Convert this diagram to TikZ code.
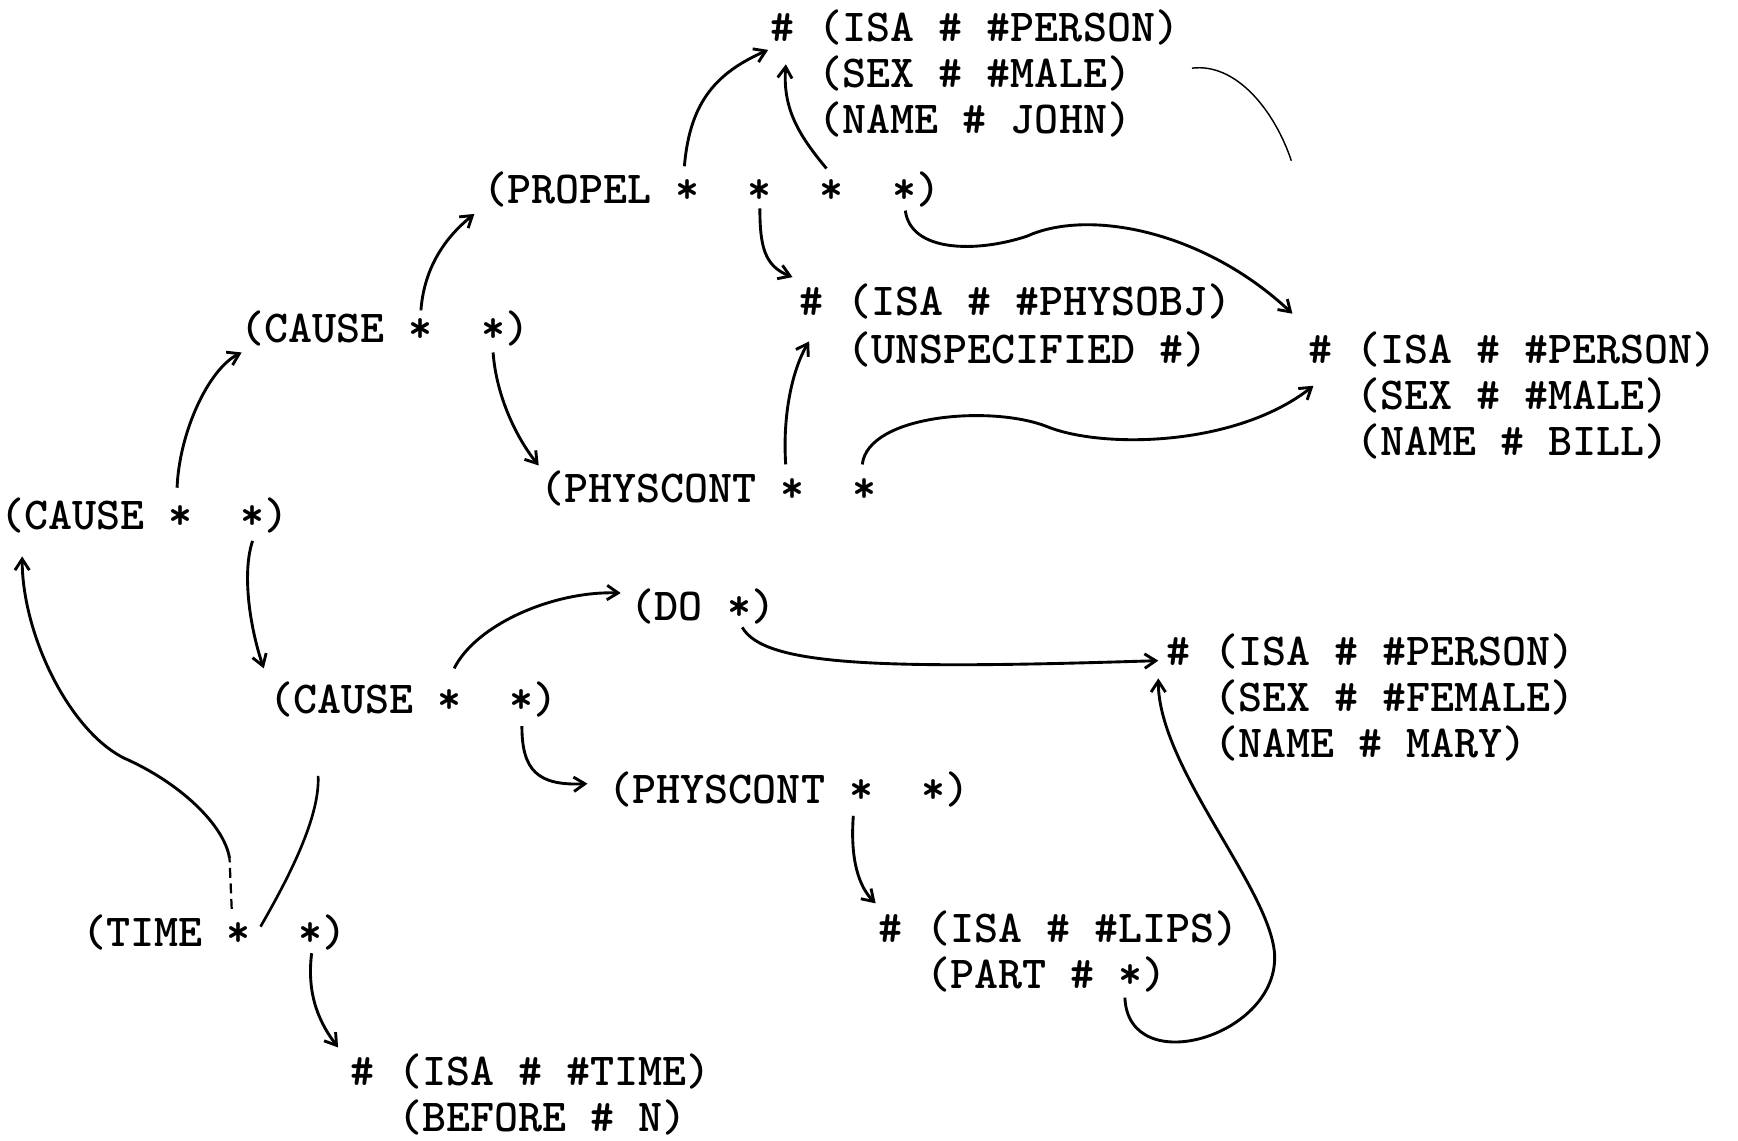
\documentclass[tikz,border=0pt]{standalone}
\usetikzlibrary{arrows.meta}
\usetikzlibrary{calc}
\newcommand{\pitch}{21.7}

\begin{document}
\begin{tikzpicture}[x=1pt,y=-1pt,
    every node/.style={inner sep=0pt,anchor=base west,
      font=\fontsize{41.3}{41.5}\selectfont\ttfamily\bfseries},
    link/.style={line width=2.6pt,-{Straight Barb[length=10pt,width=13pt]}},
    faint/.style={line width=1.3pt}]
  \useasboundingbox (0,0) rectangle (1568,1029);

  %% The records.
  \node (john1) at (695,37) {\#~(ISA~\#~\#PERSON)};
  \node (john2) at ($(john1.base west)+(2*\pitch,41.5)$) {(SEX~\#~\#MALE)};
  \node (john3) at ($(john1.base west)+(2*\pitch,83)$) {(NAME~\#~JOHN)};
  \node (propel) at (436,184) {(PROPEL~*~~*~~*~~*)};
  \node (physobj1) at (721,285) {\#~(ISA~\#~\#PHYSOBJ)};
  \node (physobj2) at ($(physobj1.base west)+(2*\pitch,43)$) {(UNSPECIFIED~\#)};
  \node (cause2) at (217,309) {(CAUSE~*~~*)};
  \node (bill1) at (1180,328) {\#~(ISA~\#~\#PERSON)};
  \node (bill2) at ($(bill1.base west)+(2*\pitch,41.5)$) {(SEX~\#~\#MALE)};
  \node (bill3) at ($(bill1.base west)+(2*\pitch,83)$) {(NAME~\#~BILL)};
  \node (pc1) at (487,453) {(PHYSCONT~*~~*};
  \node (cause1) at (0,478) {(CAUSE~*~~*)};
  \node (do) at (569,560) {(DO~*)};
  \node (mary1) at (1052,600) {\#~(ISA~\#~\#PERSON)};
  \node (mary2) at ($(mary1.base west)+(2*\pitch,41.5)$) {(SEX~\#~\#FEMALE)};
  \node (mary3) at ($(mary1.base west)+(2*\pitch,83)$) {(NAME~\#~MARY)};
  \node (cause3) at (243,644) {(CAUSE~*~~*)};
  \node (pc2) at (549,725) {(PHYSCONT~*~~*)};
  \node (lips1) at (792,850) {\#~(ISA~\#~\#LIPS)};
  \node (lips2) at ($(lips1.base west)+(2*\pitch,42)$) {(PART~\#~*)};
  \node (time) at (74,854) {(TIME~*~~*)};
  \node (before1) at (316,979) {\#~(ISA~\#~\#TIME)};
  \node (before2) at ($(before1.base west)+(2*\pitch,41.5)$) {(BEFORE~\#~N)};

  %% The slots (the stars).
  \coordinate (propel1) at ($(propel.base west)+(8.5*\pitch,-12)$);
  \coordinate (propel2) at ($(propel.base west)+(11.5*\pitch,-12)$);
  \coordinate (propel3) at ($(propel.base west)+(14.5*\pitch,-12)$);
  \coordinate (propel4) at ($(propel.base west)+(17.5*\pitch,-12)$);
  \coordinate (cause1a) at ($(cause1.base west)+(7.5*\pitch,-12)$);
  \coordinate (cause1b) at ($(cause1.base west)+(10.5*\pitch,-12)$);
  \coordinate (cause2a) at ($(cause2.base west)+(7.5*\pitch,-12)$);
  \coordinate (cause2b) at ($(cause2.base west)+(10.5*\pitch,-12)$);
  \coordinate (cause3a) at ($(cause3.base west)+(7.5*\pitch,-12)$);
  \coordinate (cause3b) at ($(cause3.base west)+(10.5*\pitch,-12)$);
  \coordinate (pc1a) at ($(pc1.base west)+(10.5*\pitch,-12)$);
  \coordinate (pc1b) at ($(pc1.base west)+(13.5*\pitch,-12)$);
  \coordinate (pc2a) at ($(pc2.base west)+(10.5*\pitch,-12)$);
  \coordinate (do1) at ($(do.base west)+(4.5*\pitch,-12)$);
  \coordinate (part1) at ($(lips2.base west)+(8.5*\pitch,-12)$);
  \coordinate (time1) at ($(time.base west)+(6.5*\pitch,-12)$);
  \coordinate (time2) at ($(time.base west)+(9.5*\pitch,-12)$);
  \coordinate (timeup) at ($(time1)+(-8,-68)$);
  \coordinate (jend) at ($(john1.base west)+(470,108)$);

  %% The pointers.
  \draw[line width=2pt,dash pattern=on 9pt off 5pt] ($(time1)+(-6,-22)$) -- (timeup);
  \draw[link] (timeup) .. controls +(-5,-30) and +(50,22) .. ++(-95,-90)
    .. controls +(-50,-25) and +(0,70) .. ($(cause1.base west)+(20,24)$);
  \draw[link] ($(cause1a)+(-3,-26)$) .. controls +(2,-50) and +(-30,15) .. ($(cause2.base west)+(1,9)$);
  \draw[link] ($(cause1b)+(0,22)$) .. controls +(-10,30) and +(-12,-35) .. ($(cause3.base west)+(-5,-41)$);
  \draw[link] ($(cause2a)+(0,-17)$) .. controls +(3,-40) and +(-25,20) .. ($(propel.base west)+(-8,9)$);
  \draw[link] ($(cause2b)+(0,21)$) .. controls +(3,40) and +(-20,-25) .. ($(pc1.base west)+(-1,-33)$);
  \draw[link] ($(propel1)+(-3,-22)$) .. controls +(5,-60) and +(-45,20) .. ($(john1.base west)+(-2,8)$);
  \draw[link] ($(propel3)+(-5,-20)$) .. controls +(-25,-30) and +(-3,40) .. ($(john1.base west)+(14,21)$);
  \draw[link] ($(propel2)+(0,16)$) .. controls +(0,35) and +(-25,-10) .. ($(physobj1.base west)+(-6,-35)$);
  \draw[link] ($(propel4)+(1,18)$) .. controls +(5,38) and +(-45,15) .. ++(110,23)
    .. controls +(55,-25) and +(-80,-75) .. ($(bill1.base west)+(-14,-45)$);
  \draw[link] ($(pc1a)+(-6,-22)$) .. controls +(-3,-45) and +(-15,25) .. ($(physobj1.base west)+(9,23)$);
  \draw[link] ($(pc1b)+(-2,-22)$) .. controls +(5,-45) and +(-50,-20) .. ++(167,-34)
    .. controls +(50,20) and +(-70,55) .. ($(bill1.base west)+(5,20)$);
  \draw[link] ($(cause3a)+(4,-29)$) .. controls +(20,-40) and +(-60,-2) .. ($(do.base west)+(-9,-25)$);
  \draw[link] ($(cause3b)+(0,23)$) .. controls +(0,40) and +(-45,2) .. ($(pc2.base west)+(-19,-18)$);
  \draw[link] ($(do1)+(3,18)$) .. controls +(20,35) and +(-250,8) .. ($(mary1.base west)+(-7,-4)$);
  \draw[link] ($(part1)+(-5,20)$) .. controls +(3,75) and +(5,75) .. ++(135,-40)
    .. controls +(-5,-60) and +(0,80) .. ($(mary1.base west)+(-7,12)$);
  \draw[link] ($(pc2a)+(-7,23)$) .. controls +(-3,40) and +(-15,-15) .. ($(lips1.base west)+(-2,-35)$);
  \draw[line width=2.4pt] ($(time1)+(20,-6)$) .. controls +(20,-35) and +(2,40) .. ($(cause3.base west)+(44,56)$);
  \draw[link] ($(time2)+(1,18)$) .. controls +(-5,40) and +(-15,-20) .. ($(before1.base west)+(-11,-34)$);
  % loose end by the first person
  \draw[faint] ($(john2.base west)+(337,-17)$) .. controls +(40,-5) and +(-15,-45) .. (jend);
\end{tikzpicture}
\end{document}
